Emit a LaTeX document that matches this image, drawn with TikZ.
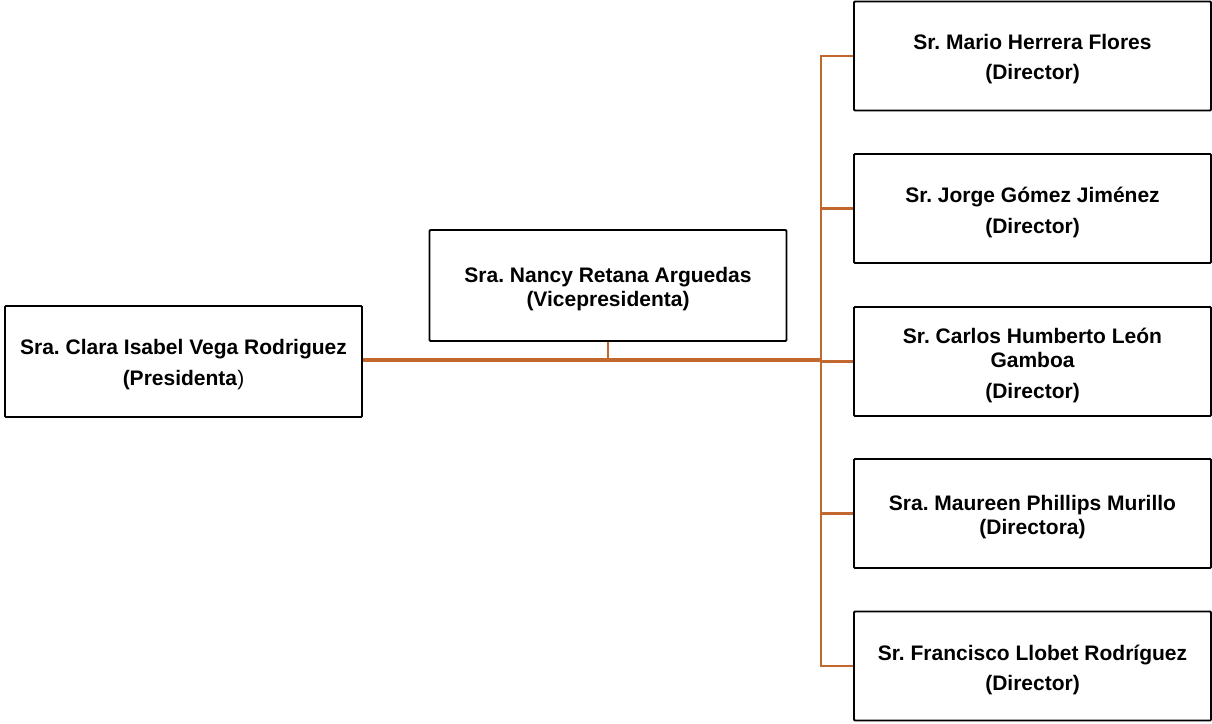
\documentclass[tikz,border=0pt]{standalone}
\usepackage{fontspec}
\setmainfont{Liberation Sans}
\definecolor{conn}{RGB}{194,103,46}
\begin{document}
\frenchspacing
\begin{tikzpicture}[x=1pt,y=-1pt,
  person/.style={draw=black,line width=1.8pt,rounded corners=1pt,fill=white,
    minimum width=357pt,minimum height=109pt,inner sep=0pt},
  ptext/.style={inner sep=0pt,align=center,yshift=-3.5pt,
    font=\bfseries\fontsize{21}{24}\selectfont},
  bus/.style={draw=conn,line width=4pt},
  branch/.style={draw=conn,line width=2.6pt}]
\useasboundingbox (0,0) rectangle (1212,723);
\node[person,minimum height=111pt] (pres) at (183.5,361.5) {};
\node[person,minimum height=111pt] (vice) at (608,285.5) {};
\node[person] (mario) at (1032.5,56) {};
\node[person] (jorge) at (1032.5,208.5) {};
\node[person] (carlos) at (1032.5,361.5) {};
\node[person] (maureen) at (1032.5,513.5) {};
\node[person] (fran) at (1032.5,666) {};
\node[ptext] (presT) at (pres.center) {Sra. Clara Isabel Vega Rodriguez\\[7pt](Presidenta\textmd{)}};
\node[ptext] (viceT) at (vice.center) {Sra. Nancy Retana Arguedas\\(Vicepresidenta)};
\node[ptext] (marioT) at (mario.center) {Sr. Mario Herrera Flores\\[6pt](Director)};
\node[ptext] (jorgeT) at (jorge.center) {Sr. Jorge Gómez Jiménez\\[7pt](Director)};
\node[ptext] (carlosT) at (carlos.center) {Sr. Carlos Humberto León\\Gamboa\\[7pt](Director)};
\node[ptext] (maureenT) at (maureen.center) {Sra. Maureen Phillips Murillo\\(Directora)};
\node[ptext] (franT) at (fran.center) {Sr. Francisco Llobet Rodríguez\\[6pt](Director)};
\coordinate (sp) at (821,0);
\coordinate (J) at (821,360);
\draw[branch] (mario.west) -- (mario.west -| sp) -- (fran.west -| sp) -- (fran.west);
\draw[branch] (jorge.west) -- (jorge.west -| sp);
\draw[branch] (carlos.west) -- (carlos.west -| sp);
\draw[branch] (maureen.west) -- (maureen.west -| sp);
\draw[branch] (vice.south) -- (vice.south |- J);
\draw[bus] (pres.east |- J) -- (J);
\end{tikzpicture}
\end{document}
